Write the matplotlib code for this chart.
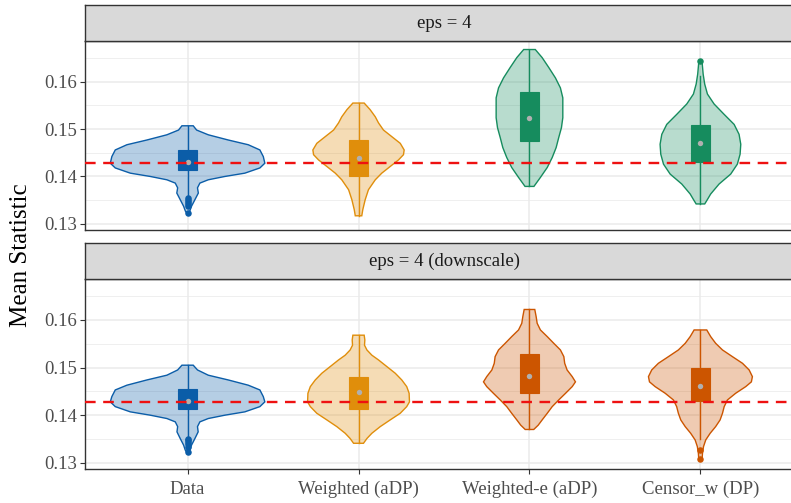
import matplotlib
matplotlib.use('Agg')
import matplotlib.pyplot as plt

plt.rcParams['font.family'] = ['Liberation Serif', 'DejaVu Serif']

methods = ['Data', 'Weighted (aDP)', 'Weighted-e (aDP)', 'Censor_w (DP)']
panels = ['eps = 4', 'eps = 4 (downscale)']
true_value = 1 / 7

colors = [['#0B5DA8', '#E08E0B', '#168C5E', '#168C5E'],
          ['#0B5DA8', '#E08E0B', '#CC5500', '#CC5500']]

# violin outlines: levels (top to bottom) and half widths
top_levels = [
    [0.1507, 0.1498, 0.1488, 0.1477, 0.1467, 0.1456, 0.1442, 0.1428, 0.1418, 0.1407,
     0.1400, 0.1393, 0.1386, 0.1376, 0.1365, 0.1351, 0.1337, 0.1327, 0.1322],
    [0.1555, 0.1541, 0.1526, 0.1513, 0.1498, 0.1484, 0.1470, 0.1456, 0.1446, 0.1435,
     0.1421, 0.1407, 0.1393, 0.1372, 0.1351, 0.1330, 0.1317],
    [0.1668, 0.1651, 0.1630, 0.1608, 0.1587, 0.1566, 0.1545, 0.1524, 0.1503, 0.1482,
     0.1461, 0.1440, 0.1419, 0.1398, 0.1379],
    [0.1640, 0.1616, 0.1595, 0.1574, 0.1553, 0.1531, 0.1510, 0.1489, 0.1468, 0.1447,
     0.1426, 0.1405, 0.1384, 0.1363, 0.1349, 0.1342],
]
top_widths = [
    [0.033, 0.053, 0.121, 0.238, 0.355, 0.423, 0.443, 0.452, 0.423, 0.335,
     0.218, 0.121, 0.072, 0.058, 0.063, 0.043, 0.023, 0.013, 0.004],
    [0.033, 0.068, 0.098, 0.117, 0.146, 0.195, 0.244, 0.267, 0.263, 0.234,
     0.185, 0.136, 0.098, 0.058, 0.039, 0.025, 0.019],
    [0.034, 0.074, 0.113, 0.152, 0.181, 0.195, 0.195, 0.195, 0.187, 0.171,
     0.156, 0.133, 0.104, 0.064, 0.026],
    [0.010, 0.016, 0.025, 0.041, 0.080, 0.139, 0.197, 0.226, 0.236, 0.232,
     0.216, 0.177, 0.109, 0.060, 0.037, 0.025],
]
bottom_levels = [
    [0.1505, 0.1495, 0.1484, 0.1474, 0.1463, 0.1453, 0.1439, 0.1428, 0.1418, 0.1407,
     0.1400, 0.1393, 0.1386, 0.1376, 0.1365, 0.1351, 0.1337, 0.1327, 0.1321],
    [0.1568, 0.1558, 0.1547, 0.1537, 0.1526, 0.1516, 0.1502, 0.1488, 0.1474, 0.1460,
     0.1446, 0.1428, 0.1418, 0.1404, 0.1390, 0.1376, 0.1362, 0.1351, 0.1341],
    [0.1622, 0.1607, 0.1593, 0.1579, 0.1565, 0.1551, 0.1537, 0.1523, 0.1509, 0.1495,
     0.1481, 0.1470, 0.1460, 0.1446, 0.1432, 0.1418, 0.1404, 0.1390, 0.1379, 0.1370],
    [0.1579, 0.1565, 0.1551, 0.1537, 0.1523, 0.1509, 0.1495, 0.1481, 0.1470, 0.1460,
     0.1446, 0.1432, 0.1418, 0.1404, 0.1390, 0.1376, 0.1362, 0.1348, 0.1334, 0.1320,
     0.1309, 0.1304],
]
bottom_widths = [
    [0.033, 0.058, 0.121, 0.238, 0.355, 0.423, 0.443, 0.452, 0.423, 0.335,
     0.218, 0.121, 0.072, 0.058, 0.062, 0.043, 0.023, 0.014, 0.004],
    [0.033, 0.037, 0.035, 0.049, 0.078, 0.117, 0.166, 0.215, 0.253, 0.282,
     0.296, 0.298, 0.282, 0.244, 0.185, 0.127, 0.078, 0.049, 0.029],
    [0.031, 0.039, 0.045, 0.064, 0.104, 0.142, 0.181, 0.201, 0.206, 0.220,
     0.250, 0.269, 0.250, 0.211, 0.171, 0.133, 0.104, 0.074, 0.051, 0.025],
    [0.037, 0.060, 0.089, 0.129, 0.187, 0.246, 0.285, 0.304, 0.298, 0.265,
     0.206, 0.158, 0.139, 0.129, 0.115, 0.089, 0.057, 0.031, 0.018, 0.012,
     0.010, 0.004],
]

# box stats: q1, q3, mean, whisker low, whisker high
top_q1 = [0.1413, 0.1402, 0.1475, 0.1430]
top_q3 = [0.1455, 0.1476, 0.1579, 0.1508]
top_mean = [0.1430, 0.1439, 0.1524, 0.1470]
top_wlo = [0.1358, 0.1317, 0.1379, 0.1342]
top_whi = [0.1507, 0.1555, 0.1668, 0.1612]
top_out = [[0.1354, 0.1350, 0.1346, 0.1342, 0.1338, 0.1323], [], [], [0.1644]]

bottom_q1 = [0.1412, 0.1414, 0.1447, 0.1430]
bottom_q3 = [0.1456, 0.1481, 0.1529, 0.1499]
bottom_mean = [0.1430, 0.1449, 0.1483, 0.1461]
bottom_wlo = [0.1356, 0.1341, 0.1370, 0.1351]
bottom_whi = [0.1505, 0.1568, 0.1622, 0.1579]
bottom_out = [[0.1351, 0.1347, 0.1343, 0.1339, 0.1334, 0.1322], [], [], [0.1327, 0.1307]]

panel_data = [
    (top_levels, top_widths, top_q1, top_q3, top_mean, top_wlo, top_whi, top_out),
    (bottom_levels, bottom_widths, bottom_q1, bottom_q3, bottom_mean, bottom_wlo, bottom_whi, bottom_out),
]

W, H = 791, 503
fig = plt.figure(figsize=(W / 100, H / 100), dpi=100)

# pixel layout: panel left 85, right runs off the image (cropped like the original)
left_px, right_px = 85, 803
panel_px = [(41, 230), (279, 469)]
strip_h = 36
box_half = 0.054

for p, (top_px, bot_px) in enumerate(panel_px):
    ax = fig.add_axes([left_px / W, 1 - bot_px / H, (right_px - left_px) / W, (bot_px - top_px) / H])
    levels, widths, q1, q3, mean, wlo, whi, outl = panel_data[p]

    ax.set_xlim(0.4, 4.6)
    ax.set_ylim(0.1287, 0.1686)
    ax.set_yticks([0.13, 0.14, 0.15, 0.16])
    ax.set_yticklabels(['0.13', '0.14', '0.15', '0.16'])
    ax.set_yticks([0.135, 0.145, 0.155, 0.165], minor=True)
    ax.set_xticks(range(1, 5))
    ax.grid(which='major', color='#EBEBEB', linewidth=1.1, zorder=0)
    ax.grid(which='minor', axis='y', color='#EBEBEB', linewidth=0.55, zorder=0)
    ax.set_axisbelow(True)
    for s in ax.spines.values():
        s.set_color('#333333')
        s.set_linewidth(1.0)
    ax.tick_params(which='major', length=3.5, width=0.8, color='#333333',
                   labelsize=13.5, labelcolor='#4D4D4D', pad=2)
    ax.tick_params(which='minor', length=0)
    if p == 0:
        ax.tick_params(axis='x', bottom=False, labelbottom=False)
    else:
        ax.set_xticklabels(methods)
        ax.tick_params(axis='x', pad=5)

    for i in range(4):
        pos = i + 1
        c = colors[p][i]
        lv = levels[i]
        hw = widths[i]
        xs = [pos + w for w in hw] + [pos - w for w in hw[::-1]]
        ys = list(lv) + list(lv[::-1])
        ax.fill(xs, ys, facecolor=c, alpha=0.3, edgecolor='none', zorder=2)
        ax.fill(xs, ys, facecolor='none', edgecolor=c, linewidth=1.0, zorder=3)
        # whiskers
        ax.plot([pos, pos], [wlo[i], whi[i]], color=c, linewidth=1.0, zorder=4)
        # box
        ax.fill([pos - box_half, pos + box_half, pos + box_half, pos - box_half],
                [q1[i], q1[i], q3[i], q3[i]], facecolor=c, edgecolor=c,
                linewidth=0.8, zorder=5)
        if outl[i]:
            ax.scatter([pos] * len(outl[i]), outl[i], s=22, color=c, zorder=5, linewidths=0)
        ax.scatter([pos], [mean[i]], s=15, color='#B0B0B0', zorder=6, linewidths=0)

    ax.axhline(true_value, color='#EE1111', linestyle=(0, (4.5, 3.2)), linewidth=1.7, zorder=7)

    # strip
    sax = fig.add_axes([left_px / W, 1 - top_px / H, (right_px - left_px) / W, strip_h / H])
    sax.set_facecolor('#D9D9D9')
    sax.set_xticks([])
    sax.set_yticks([])
    for s in sax.spines.values():
        s.set_color('#333333')
        s.set_linewidth(1.0)
    sax.text(0.5, 0.5, panels[p], transform=sax.transAxes, ha='center', va='center',
             fontsize=13.5, color='#1A1A1A')

fig.text(21 / W, 1 - 255 / H, 'Mean Statistic', rotation=90, ha='center', va='center',
         fontsize=18, color='black')

fig.savefig('out.png', dpi=100)
